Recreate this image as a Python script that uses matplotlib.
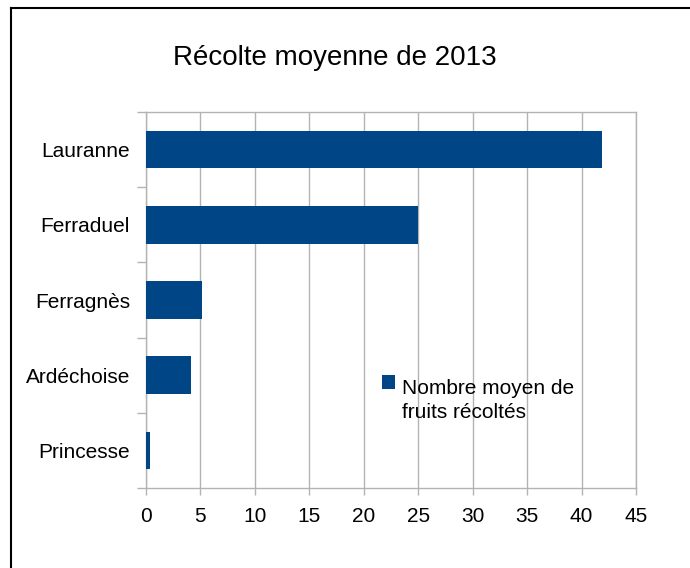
import matplotlib
matplotlib.use("Agg")
import matplotlib.pyplot as plt
import numpy as np
from matplotlib.patches import Rectangle
from matplotlib.lines import Line2D

# data
varieties = ["Lauranne", "Ferraduel", "Ferragnès", "Ardéchoise", "Princesse"]
mean_fruits = [41.9, 25.0, 5.1, 4.1, 0.35]
x_ticks = [0, 5, 10, 15, 20, 25, 30, 35, 40, 45]
title = "Récolte moyenne de 2013"
legend_label = "Nombre moyen de\nfruits récoltés"

plt.rcParams['font.family'] = ['Liberation Sans', 'DejaVu Sans']

W, H = 690, 568
BAR_COLOR = "#004586"
GRID_COLOR = "#b3b3b3"

fig = plt.figure(figsize=(W / 100, H / 100), dpi=100)
fig.patch.set_facecolor("white")

def fx(px):
    return px / W

def fy(py):
    return 1 - py / H

# plot area in pixels: left 146, right 636, top 112, bottom 488
ax = fig.add_axes([fx(146), fy(488), fx(636) - fx(146), fy(112) - fy(488)])

ypos = np.arange(len(varieties))
ax.barh(ypos, mean_fruits, height=0.5, color=BAR_COLOR, zorder=3)

ax.set_xlim(0, 45)
ax.set_ylim(len(varieties) - 0.5, -0.5)
ax.set_xticks(x_ticks)
ax.set_xticklabels([str(t) for t in x_ticks], fontsize=15)
ax.set_yticks(ypos)
ax.set_yticklabels(varieties, fontsize=15)
ax.set_yticks(np.arange(len(varieties) + 1) - 0.5, minor=True)

ax.tick_params(axis="y", which="major", length=0, pad=11.5)
ax.tick_params(axis="y", which="minor", length=6.5, width=1.0, color=GRID_COLOR, direction="out")
ax.tick_params(axis="x", which="major", length=5, width=1.0, color=GRID_COLOR, direction="out", pad=9)

ax.grid(axis="x", color=GRID_COLOR, linewidth=1.0, zorder=0)
for side in ["left", "bottom", "top", "right"]:
    ax.spines[side].set_color(GRID_COLOR)
    ax.spines[side].set_linewidth(1.0)

# title
fig.text(fx(334.5), fy(65), title, fontsize=20, ha="center", va="baseline")

# legend drawn by hand so the marker sits next to the first line
fig.patches.append(Rectangle((fx(382), fy(389)), fx(13), 14 / H,
                             transform=fig.transFigure, facecolor=BAR_COLOR,
                             edgecolor="none"))
fig.text(fx(402), fy(418), legend_label, fontsize=15, ha="left", va="baseline",
         linespacing=1.35)

# outer frame (left and top edges only are visible)
fig.add_artist(Line2D([fx(11), fx(11)], [fy(7.5), 0], transform=fig.transFigure,
                      color="black", linewidth=1.5))
fig.add_artist(Line2D([fx(11), 1], [fy(7.5), fy(7.5)], transform=fig.transFigure,
                      color="black", linewidth=1.5))

fig.savefig("out.png", dpi=100)
